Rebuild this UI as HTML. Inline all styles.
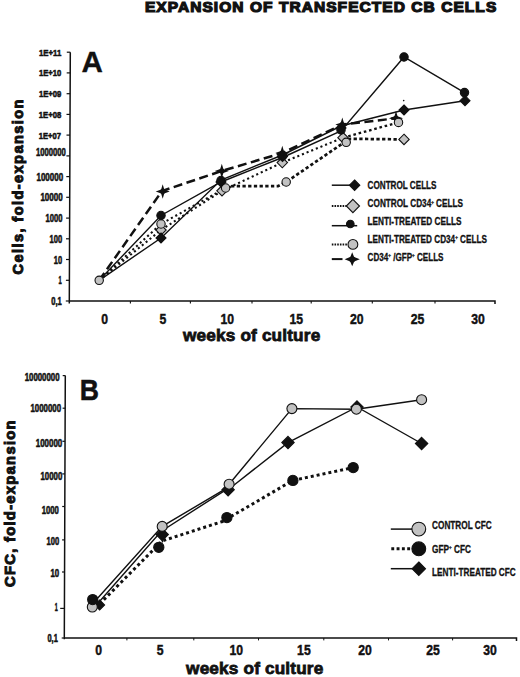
<!DOCTYPE html><html><head><meta charset="utf-8"><style>html,body{margin:0;padding:0;background:#fff;}svg{display:block;}text{font-family:"Liberation Sans", sans-serif;fill:#111;}</style></head><body>
<svg width="520" height="677" viewBox="0 0 520 677">
<rect width="520" height="677" fill="#fff"/>
<text x="144.9" y="12.2" font-size="14.6" text-anchor="start" font-weight="bold" textLength="352.4" lengthAdjust="spacingAndGlyphs" letter-spacing="1" stroke="#111" stroke-width="1.2">EXPANSION OF TRANSFECTED CB CELLS</text>
<path d="M70.3,52.2 L69.3,303.6 M69.3,301.0 H495.0 v3" fill="none" stroke="#111" stroke-width="1.5"/>
<line x1="65.8" y1="301.0" x2="69.3" y2="301.0" stroke="#111" stroke-width="1.2"/>
<text x="61.699999999999996" y="304.9" font-size="10.4" text-anchor="end" font-weight="bold" textLength="10.5" stroke="#111" stroke-width="0.55" lengthAdjust="spacingAndGlyphs">0,1</text>
<line x1="65.9" y1="280.3" x2="69.4" y2="280.3" stroke="#111" stroke-width="1.2"/>
<text x="61.699999999999996" y="284.2" font-size="10.4" text-anchor="end" font-weight="bold" textLength="3.1999999999999997" stroke="#111" stroke-width="0.55" lengthAdjust="spacingAndGlyphs">1</text>
<line x1="66.0" y1="259.5" x2="69.5" y2="259.5" stroke="#111" stroke-width="1.2"/>
<text x="62.099999999999994" y="263.5" font-size="10.4" text-anchor="end" font-weight="bold" textLength="8.3" stroke="#111" stroke-width="0.55" lengthAdjust="spacingAndGlyphs">10</text>
<line x1="66.0" y1="238.8" x2="69.5" y2="238.8" stroke="#111" stroke-width="1.2"/>
<text x="62.099999999999994" y="242.8" font-size="10.4" text-anchor="end" font-weight="bold" textLength="12.600000000000001" stroke="#111" stroke-width="0.55" lengthAdjust="spacingAndGlyphs">100</text>
<line x1="66.1" y1="218.1" x2="69.6" y2="218.1" stroke="#111" stroke-width="1.2"/>
<text x="62.4" y="222.0" font-size="10.4" text-anchor="end" font-weight="bold" textLength="16.900000000000002" stroke="#111" stroke-width="0.55" lengthAdjust="spacingAndGlyphs">1000</text>
<line x1="66.2" y1="197.3" x2="69.7" y2="197.3" stroke="#111" stroke-width="1.2"/>
<text x="62.699999999999996" y="201.3" font-size="10.4" text-anchor="end" font-weight="bold" textLength="22.3" stroke="#111" stroke-width="0.55" lengthAdjust="spacingAndGlyphs">10000</text>
<line x1="66.3" y1="176.6" x2="69.8" y2="176.6" stroke="#111" stroke-width="1.2"/>
<text x="63.099999999999994" y="180.6" font-size="10.4" text-anchor="end" font-weight="bold" textLength="26.6" stroke="#111" stroke-width="0.55" lengthAdjust="spacingAndGlyphs">100000</text>
<line x1="66.4" y1="155.9" x2="69.9" y2="155.9" stroke="#111" stroke-width="1.2"/>
<text x="65.8" y="156.2" font-size="10.4" text-anchor="end" font-weight="bold" textLength="29.8" stroke="#111" stroke-width="0.55" lengthAdjust="spacingAndGlyphs">1000000</text>
<line x1="66.5" y1="135.1" x2="70.0" y2="135.1" stroke="#111" stroke-width="1.2"/>
<text x="60.9" y="138.6" font-size="9.2" text-anchor="end" font-weight="bold" textLength="22.1" stroke="#111" stroke-width="0.55" lengthAdjust="spacingAndGlyphs">1E+07</text>
<line x1="66.5" y1="114.4" x2="70.0" y2="114.4" stroke="#111" stroke-width="1.2"/>
<text x="61.199999999999996" y="117.9" font-size="9.2" text-anchor="end" font-weight="bold" textLength="22.400000000000002" stroke="#111" stroke-width="0.55" lengthAdjust="spacingAndGlyphs">1E+08</text>
<line x1="66.6" y1="93.7" x2="70.1" y2="93.7" stroke="#111" stroke-width="1.2"/>
<text x="61.3" y="97.2" font-size="9.2" text-anchor="end" font-weight="bold" textLength="22.400000000000002" stroke="#111" stroke-width="0.55" lengthAdjust="spacingAndGlyphs">1E+09</text>
<line x1="66.7" y1="72.9" x2="70.2" y2="72.9" stroke="#111" stroke-width="1.2"/>
<text x="61.3" y="76.4" font-size="9.2" text-anchor="end" font-weight="bold" textLength="22.3" stroke="#111" stroke-width="0.55" lengthAdjust="spacingAndGlyphs">1E+10</text>
<line x1="66.8" y1="52.2" x2="70.3" y2="52.2" stroke="#111" stroke-width="1.2"/>
<text x="61.3" y="55.7" font-size="9.2" text-anchor="end" font-weight="bold" textLength="22.3" stroke="#111" stroke-width="0.55" lengthAdjust="spacingAndGlyphs">1E+11</text>
<line x1="130.4" y1="301.0" x2="130.4" y2="303.6" stroke="#111" stroke-width="1.1"/>
<line x1="190.4" y1="301.0" x2="190.4" y2="303.6" stroke="#111" stroke-width="1.1"/>
<line x1="252" y1="301.0" x2="252" y2="303.6" stroke="#111" stroke-width="1.1"/>
<line x1="311.2" y1="301.0" x2="311.2" y2="303.6" stroke="#111" stroke-width="1.1"/>
<line x1="372.3" y1="301.0" x2="372.3" y2="303.6" stroke="#111" stroke-width="1.1"/>
<line x1="435" y1="301.0" x2="435" y2="303.6" stroke="#111" stroke-width="1.1"/>
<g transform="translate(104.6,324.0) scale(0.86,1)"><text x="0" y="0" font-size="14.2" text-anchor="middle" font-weight="bold" stroke="#111" stroke-width="0.45">0</text></g>
<g transform="translate(163,324.0) scale(0.86,1)"><text x="0" y="0" font-size="14.2" text-anchor="middle" font-weight="bold" stroke="#111" stroke-width="0.45">5</text></g>
<g transform="translate(227.3,324.0) scale(0.86,1)"><text x="0" y="0" font-size="14.2" text-anchor="middle" font-weight="bold" stroke="#111" stroke-width="0.45">10</text></g>
<g transform="translate(296.2,324.0) scale(0.86,1)"><text x="0" y="0" font-size="14.2" text-anchor="middle" font-weight="bold" stroke="#111" stroke-width="0.45">15</text></g>
<g transform="translate(356.8,324.0) scale(0.86,1)"><text x="0" y="0" font-size="14.2" text-anchor="middle" font-weight="bold" stroke="#111" stroke-width="0.45">20</text></g>
<g transform="translate(417.5,324.0) scale(0.86,1)"><text x="0" y="0" font-size="14.2" text-anchor="middle" font-weight="bold" stroke="#111" stroke-width="0.45">25</text></g>
<g transform="translate(478.1,324.0) scale(0.86,1)"><text x="0" y="0" font-size="14.2" text-anchor="middle" font-weight="bold" stroke="#111" stroke-width="0.45">30</text></g>
<text x="183.0" y="341.3" font-size="17.2" text-anchor="start" font-weight="bold" textLength="137.2" lengthAdjust="spacing" stroke="#111" stroke-width="0.8">weeks of culture</text>
<text x="0" y="0" font-size="14.6" text-anchor="start" font-weight="bold" transform="translate(23.4,274.5) rotate(-90)" textLength="175" lengthAdjust="spacing" stroke="#111" stroke-width="1.0">Cells, fold-expansion</text>
<text x="81.5" y="71.8" font-size="29.5" text-anchor="start" font-weight="bold" stroke="#111" stroke-width="0.3" textLength="21.4" lengthAdjust="spacingAndGlyphs">A</text>
<polyline points="99.2,280.3 161.0,230.0 222.0,190.8 282.3,162.6 343.0,137.7" fill="none" stroke="#111" stroke-width="2.1" stroke-dasharray="2.1 2.9"/>
<polyline points="343.0,137.7 398.5,122.4" fill="none" stroke="#111" stroke-width="2.3" stroke-dasharray="2.6 2.8"/>
<polyline points="99.2,280.3 161.0,224.0 225.6,188.0" fill="none" stroke="#111" stroke-width="2.1" stroke-dasharray="2.1 2.9"/>
<polyline points="225.6,188.0 232.0,186.2 278.0,186.2 286.2,182.0 346.2,141.0 350.0,138.8 404.0,139.4" fill="none" stroke="#111" stroke-width="2.7" stroke-dasharray="3.3 2.4"/>
<polyline points="99.2,280.3 162.0,191.0 221.8,171.0 282.3,153.0 342.3,124.6 396.0,118.3" fill="none" stroke="#111" stroke-width="2.5" stroke-dasharray="9 4.5"/>
<polyline points="99.2,280.3 161.0,238.0 221.0,180.0 282.5,155.0 341.0,126.0 404.0,110.0 465.0,100.7" fill="none" stroke="#111" stroke-width="1.4"/>
<polyline points="99.2,280.3 161.0,215.5 221.0,182.0 282.5,157.5 341.0,131.0 404.0,57.0 464.5,92.6" fill="none" stroke="#111" stroke-width="1.4"/>
<path d="M389.0,118.3 L393.8,116.6 L394.5,116.1 L396.0,111.1 L397.5,116.1 L398.2,116.6 L403.0,118.3 L398.2,120.0 L397.5,120.5 L396.0,125.5 L394.5,120.5 L393.8,120.0 Z" fill="#111"/><circle cx="396" cy="118.3" r="2.40" fill="#111"/>
<polygon points="161,224.8 166.2,230 161,235.2 155.8,230" fill="#c2c2c2" stroke="#111" stroke-width="1.1"/>
<polygon points="222,185.60000000000002 227.2,190.8 222,196.0 216.8,190.8" fill="#c2c2c2" stroke="#111" stroke-width="1.1"/>
<polygon points="282.3,157.4 287.5,162.6 282.3,167.79999999999998 277.1,162.6" fill="#c2c2c2" stroke="#111" stroke-width="1.1"/>
<polygon points="343,132.5 348.2,137.7 343,142.89999999999998 337.8,137.7" fill="#c2c2c2" stroke="#111" stroke-width="1.1"/>
<polygon points="404,134.20000000000002 409.2,139.4 404,144.6 398.8,139.4" fill="#c2c2c2" stroke="#111" stroke-width="1.1"/>
<circle cx="161" cy="224" r="4.2" fill="#c2c2c2" stroke="#111" stroke-width="1.1"/>
<circle cx="225.6" cy="188" r="4.2" fill="#c2c2c2" stroke="#111" stroke-width="1.1"/>
<circle cx="286.2" cy="182" r="4.2" fill="#c2c2c2" stroke="#111" stroke-width="1.1"/>
<circle cx="346.2" cy="142.3" r="4.2" fill="#c2c2c2" stroke="#111" stroke-width="1.1"/>
<circle cx="398.5" cy="122.4" r="4.2" fill="#c2c2c2" stroke="#111" stroke-width="1.1"/>
<polygon points="161,233 166,238 161,243 156,238" fill="#111" stroke="#111" stroke-width="1.1"/>
<polygon points="221,177 226,182 221,187 216,182" fill="#111" stroke="#111" stroke-width="1.1"/>
<polygon points="282.5,151.5 287.5,156.5 282.5,161.5 277.5,156.5" fill="#111" stroke="#111" stroke-width="1.1"/>
<polygon points="341,123 346,128 341,133 336,128" fill="#111" stroke="#111" stroke-width="1.1"/>
<polygon points="404,105 409,110 404,115 399,110" fill="#111" stroke="#111" stroke-width="1.1"/>
<polygon points="465,95.7 470,100.7 465,105.7 460,100.7" fill="#111" stroke="#111" stroke-width="1.1"/>
<circle cx="161" cy="215.5" r="4.2" fill="#111" stroke="#111" stroke-width="1.1"/>
<circle cx="221" cy="180.5" r="4.2" fill="#111" stroke="#111" stroke-width="1.1"/>
<circle cx="282.5" cy="156" r="4.2" fill="#111" stroke="#111" stroke-width="1.1"/>
<circle cx="341" cy="130" r="4.2" fill="#111" stroke="#111" stroke-width="1.1"/>
<circle cx="404" cy="57" r="4.2" fill="#111" stroke="#111" stroke-width="1.1"/>
<circle cx="464.5" cy="92.6" r="4.2" fill="#111" stroke="#111" stroke-width="1.1"/>
<path d="M155.7,191.5 L160.5,189.8 L161.2,189.3 L162.7,184.3 L164.2,189.3 L164.9,189.8 L169.7,191.5 L164.9,193.2 L164.2,193.7 L162.7,198.7 L161.2,193.7 L160.5,193.2 Z" fill="#111"/><circle cx="162.7" cy="191.5" r="2.40" fill="#111"/>
<path d="M214.8,171.0 L219.6,169.3 L220.3,168.8 L221.8,163.8 L223.3,168.8 L224.0,169.3 L228.8,171.0 L224.0,172.7 L223.3,173.2 L221.8,178.2 L220.3,173.2 L219.6,172.7 Z" fill="#111"/><circle cx="221.8" cy="171" r="2.40" fill="#111"/>
<path d="M275.3,153.0 L280.1,151.3 L280.8,150.8 L282.3,145.8 L283.8,150.8 L284.5,151.3 L289.3,153.0 L284.5,154.7 L283.8,155.2 L282.3,160.2 L280.8,155.2 L280.1,154.7 Z" fill="#111"/><circle cx="282.3" cy="153" r="2.40" fill="#111"/>
<path d="M335.3,124.6 L340.1,122.9 L340.8,122.4 L342.3,117.4 L343.8,122.4 L344.5,122.9 L349.3,124.6 L344.5,126.3 L343.8,126.8 L342.3,131.8 L340.8,126.8 L340.1,126.3 Z" fill="#111"/><circle cx="342.3" cy="124.6" r="2.40" fill="#111"/>
<circle cx="99.2" cy="280.3" r="4.2" fill="#c2c2c2" stroke="#111" stroke-width="1.1"/>
<circle cx="403.7" cy="100.6" r="0.8" fill="#111" stroke="#111" stroke-width="0"/>
<line x1="331.8" y1="185.2" x2="354.6" y2="185.2" stroke="#111" stroke-width="1.5"/>
<polygon points="354.6,180.0 359.8,185.2 354.6,190.39999999999998 349.40000000000003,185.2" fill="#111" stroke="#111" stroke-width="1.1"/>
<line x1="331.8" y1="206" x2="352.9" y2="206" stroke="#111" stroke-width="2" stroke-dasharray="1.6 1.1"/>
<polygon points="352.9,199.4 359.5,206 352.9,212.6 346.29999999999995,206" fill="#c2c2c2" stroke="#111" stroke-width="1.1"/>
<line x1="331.8" y1="225.7" x2="357.2" y2="225.7" stroke="#111" stroke-width="1.5"/>
<circle cx="350.3" cy="224" r="3.8" fill="#111" stroke="#111" stroke-width="1.1"/>
<line x1="331.8" y1="244.4" x2="352.9" y2="244.4" stroke="#111" stroke-width="2" stroke-dasharray="1.6 1.1"/>
<circle cx="352.9" cy="244.4" r="4.9" fill="#c2c2c2" stroke="#111" stroke-width="1.1"/>
<line x1="331.8" y1="259.1" x2="342.5" y2="259.1" stroke="#111" stroke-width="2"/>
<path d="M344.6,259.3 L349.6,257.3 L350.4,256.7 L352.2,252.3 L354.0,256.7 L354.8,257.3 L359.8,259.3 L354.8,261.3 L354.0,261.9 L352.2,266.3 L350.4,261.9 L349.6,261.3 Z" fill="#111"/><circle cx="352.2" cy="259.3" r="2.88" fill="#111"/>
<text x="367.6" y="188.8" font-size="10.2" text-anchor="start" font-weight="bold" textLength="68.9" stroke="#111" stroke-width="0.3" lengthAdjust="spacingAndGlyphs">CONTROL CELLS</text>
<text x="367.6" y="207.3" font-size="10.2" text-anchor="start" font-weight="bold" textLength="95.4" stroke="#111" stroke-width="0.3" lengthAdjust="spacingAndGlyphs">CONTROL CD34<tspan font-size="5.6" dy="-3.4">+</tspan><tspan dy="3.4"> CELLS</tspan></text>
<text x="367.6" y="225.1" font-size="10.2" text-anchor="start" font-weight="bold" textLength="93.9" stroke="#111" stroke-width="0.3" lengthAdjust="spacingAndGlyphs">LENTI-TREATED CELLS</text>
<text x="367.6" y="242.8" font-size="10.2" text-anchor="start" font-weight="bold" textLength="119.3" stroke="#111" stroke-width="0.3" lengthAdjust="spacingAndGlyphs">LENTI-TREATED CD34<tspan font-size="5.6" dy="-3.4">+</tspan><tspan dy="3.4"> CELLS</tspan></text>
<text x="367.6" y="260.6" font-size="10.2" text-anchor="start" font-weight="bold" textLength="75.9" stroke="#111" stroke-width="0.3" lengthAdjust="spacingAndGlyphs">CD34<tspan font-size="5.6" dy="-3.4">+</tspan><tspan dy="3.4"> /GFP</tspan><tspan font-size="5.6" dy="-3.4">+</tspan><tspan dy="3.4"> CELLS</tspan></text>
<path d="M65.3,375.6 L64.3,639.2 M64.3,638.0 H516.5 v3" fill="none" stroke="#111" stroke-width="1.5"/>
<line x1="61.7" y1="638.0" x2="64.3" y2="638.0" stroke="#111" stroke-width="1.2"/>
<text x="57.8" y="642.4" font-size="10.4" text-anchor="end" font-weight="bold" textLength="10.3" stroke="#111" stroke-width="0.55" lengthAdjust="spacingAndGlyphs">0,1</text>
<line x1="60.2" y1="608.4" x2="64.4" y2="608.4" stroke="#111" stroke-width="1.2"/>
<text x="57.8" y="610.9" font-size="10.4" text-anchor="end" font-weight="bold" textLength="3.0" stroke="#111" stroke-width="0.55" lengthAdjust="spacingAndGlyphs">1</text>
<line x1="62.0" y1="572.0" x2="64.6" y2="572.0" stroke="#111" stroke-width="1.2"/>
<text x="59.199999999999996" y="577.4" font-size="10.4" text-anchor="end" font-weight="bold" textLength="8.700000000000001" stroke="#111" stroke-width="0.55" lengthAdjust="spacingAndGlyphs">10</text>
<line x1="62.1" y1="539.9" x2="64.7" y2="539.9" stroke="#111" stroke-width="1.2"/>
<text x="59.199999999999996" y="545.2" font-size="10.4" text-anchor="end" font-weight="bold" textLength="12.600000000000001" stroke="#111" stroke-width="0.55" lengthAdjust="spacingAndGlyphs">100</text>
<line x1="62.2" y1="506.5" x2="64.8" y2="506.5" stroke="#111" stroke-width="1.2"/>
<text x="58.9" y="513.5" font-size="10.4" text-anchor="end" font-weight="bold" textLength="17.1" stroke="#111" stroke-width="0.55" lengthAdjust="spacingAndGlyphs">1000</text>
<line x1="62.3" y1="473.9" x2="64.9" y2="473.9" stroke="#111" stroke-width="1.2"/>
<text x="62.3" y="480.1" font-size="10.4" text-anchor="end" font-weight="bold" textLength="21.8" stroke="#111" stroke-width="0.55" lengthAdjust="spacingAndGlyphs">10000</text>
<line x1="62.4" y1="441.3" x2="65.0" y2="441.3" stroke="#111" stroke-width="1.2"/>
<text x="62.199999999999996" y="446.9" font-size="10.4" text-anchor="end" font-weight="bold" textLength="26.400000000000002" stroke="#111" stroke-width="0.55" lengthAdjust="spacingAndGlyphs">100000</text>
<line x1="62.6" y1="408.2" x2="65.2" y2="408.2" stroke="#111" stroke-width="1.2"/>
<text x="61.0" y="411.6" font-size="10.4" text-anchor="end" font-weight="bold" textLength="30.5" stroke="#111" stroke-width="0.55" lengthAdjust="spacingAndGlyphs">1000000</text>
<line x1="62.7" y1="375.6" x2="65.3" y2="375.6" stroke="#111" stroke-width="1.2"/>
<text x="59.5" y="380.6" font-size="10.4" text-anchor="end" font-weight="bold" textLength="34.8" stroke="#111" stroke-width="0.55" lengthAdjust="spacingAndGlyphs">10000000</text>
<line x1="126.9" y1="638.0" x2="126.9" y2="640.4" stroke="#111" stroke-width="1.0"/>
<line x1="193.8" y1="638.0" x2="193.8" y2="640.4" stroke="#111" stroke-width="1.0"/>
<line x1="258.5" y1="638.0" x2="258.5" y2="640.4" stroke="#111" stroke-width="1.0"/>
<line x1="323.8" y1="638.0" x2="323.8" y2="640.4" stroke="#111" stroke-width="1.0"/>
<line x1="388.5" y1="638.0" x2="388.5" y2="640.4" stroke="#111" stroke-width="1.0"/>
<line x1="452.6" y1="638.0" x2="452.6" y2="640.4" stroke="#111" stroke-width="1.0"/>
<g transform="translate(98.7,655.0) scale(0.86,1)"><text x="0" y="0" font-size="14.2" text-anchor="middle" font-weight="bold" stroke="#111" stroke-width="0.45">0</text></g>
<g transform="translate(160.2,655.0) scale(0.86,1)"><text x="0" y="0" font-size="14.2" text-anchor="middle" font-weight="bold" stroke="#111" stroke-width="0.45">5</text></g>
<g transform="translate(236.2,655.0) scale(0.86,1)"><text x="0" y="0" font-size="14.2" text-anchor="middle" font-weight="bold" stroke="#111" stroke-width="0.45">10</text></g>
<g transform="translate(303.9,655.0) scale(0.86,1)"><text x="0" y="0" font-size="14.2" text-anchor="middle" font-weight="bold" stroke="#111" stroke-width="0.45">15</text></g>
<g transform="translate(365,655.0) scale(0.86,1)"><text x="0" y="0" font-size="14.2" text-anchor="middle" font-weight="bold" stroke="#111" stroke-width="0.45">20</text></g>
<g transform="translate(433.1,655.0) scale(0.86,1)"><text x="0" y="0" font-size="14.2" text-anchor="middle" font-weight="bold" stroke="#111" stroke-width="0.45">25</text></g>
<g transform="translate(490,655.0) scale(0.86,1)"><text x="0" y="0" font-size="14.2" text-anchor="middle" font-weight="bold" stroke="#111" stroke-width="0.45">30</text></g>
<text x="186.1" y="674.4" font-size="17.2" text-anchor="start" font-weight="bold" textLength="137.2" lengthAdjust="spacing" stroke="#111" stroke-width="0.8">weeks of culture</text>
<text x="0" y="0" font-size="14.8" text-anchor="start" font-weight="bold" transform="translate(14.6,586.9) rotate(-90)" textLength="166.5" lengthAdjust="spacing" stroke="#111" stroke-width="1.0">CFC, fold-expansion</text>
<text x="79.7" y="400.2" font-size="29.3" text-anchor="start" font-weight="bold" stroke="#111" stroke-width="0.5" textLength="19.2" lengthAdjust="spacingAndGlyphs">B</text>
<polyline points="99.5,601.5 161.0,531.5 223.5,491.3 228.1,489.7 288.0,442.6 357.0,407.0 421.6,443.5" fill="none" stroke="#111" stroke-width="1.4"/>
<polyline points="96.0,600.0 162.2,526.4 222.5,490.6 229.1,484.2 291.9,408.6 356.4,409.2 421.6,399.7" fill="none" stroke="#111" stroke-width="1.4"/>
<polyline points="99.6,604.0 162.0,541.0 222.5,521.5 292.9,480.4 353.2,467.6" fill="none" stroke="#111" stroke-width="3" stroke-dasharray="3 3"/>
<polygon points="99.6,600.0 104.6,605.0 99.6,610.0 94.6,605.0" fill="#111" stroke="#111" stroke-width="1.1"/>
<polygon points="162.2,528.3 168.39999999999998,534.5 162.2,540.7 156.0,534.5" fill="#111" stroke="#111" stroke-width="1.1"/>
<polygon points="228.1,483.5 234.29999999999998,489.7 228.1,495.9 221.9,489.7" fill="#111" stroke="#111" stroke-width="1.1"/>
<polygon points="288,436.40000000000003 294.2,442.6 288,448.8 281.8,442.6" fill="#111" stroke="#111" stroke-width="1.1"/>
<polygon points="357,400.8 363.2,407 357,413.2 350.8,407" fill="#111" stroke="#111" stroke-width="1.1"/>
<polygon points="421.6,437.3 427.8,443.5 421.6,449.7 415.40000000000003,443.5" fill="#111" stroke="#111" stroke-width="1.1"/>
<circle cx="92.3" cy="607" r="5.0" fill="#c2c2c2" stroke="#111" stroke-width="1.1"/>
<circle cx="162.2" cy="526.4" r="5.0" fill="#c2c2c2" stroke="#111" stroke-width="1.1"/>
<circle cx="229.1" cy="484.2" r="5.0" fill="#c2c2c2" stroke="#111" stroke-width="1.1"/>
<circle cx="291.9" cy="408.6" r="5.0" fill="#c2c2c2" stroke="#111" stroke-width="1.1"/>
<circle cx="356.4" cy="409.2" r="5.0" fill="#c2c2c2" stroke="#111" stroke-width="1.1"/>
<circle cx="421.6" cy="399.7" r="5.0" fill="#c2c2c2" stroke="#111" stroke-width="1.1"/>
<circle cx="92.7" cy="599.6" r="5.1" fill="#111" stroke="#111" stroke-width="1.1"/>
<circle cx="158.8" cy="547.3" r="5.1" fill="#111" stroke="#111" stroke-width="1.1"/>
<circle cx="226.9" cy="517.6" r="5.1" fill="#111" stroke="#111" stroke-width="1.1"/>
<circle cx="292.9" cy="480.4" r="5.1" fill="#111" stroke="#111" stroke-width="1.1"/>
<circle cx="353.2" cy="467.6" r="5.1" fill="#111" stroke="#111" stroke-width="1.1"/>
<line x1="162.4" y1="538.5" x2="162.4" y2="542.5" stroke="#111" stroke-width="1.2"/>
<line x1="390.8" y1="529.1" x2="418.8" y2="529.1" stroke="#111" stroke-width="1.5"/>
<circle cx="418.8" cy="529.1" r="6.9" fill="#c2c2c2" stroke="#111" stroke-width="1.1"/>
<line x1="391.3" y1="548.8" x2="418.8" y2="548.8" stroke="#111" stroke-width="3" stroke-dasharray="2.9 2.4"/>
<circle cx="418.8" cy="548.8" r="6.9" fill="#111" stroke="#111" stroke-width="1.1"/>
<line x1="390.8" y1="568.7" x2="418.8" y2="568.7" stroke="#111" stroke-width="1.5"/>
<polygon points="418.8,562.0 425.5,568.7 418.8,575.4000000000001 412.1,568.7" fill="#111" stroke="#111" stroke-width="1.1"/>
<text x="432.1" y="528.8" font-size="10.2" text-anchor="start" font-weight="bold" textLength="59.6" stroke="#111" stroke-width="0.3" lengthAdjust="spacingAndGlyphs">CONTROL CFC</text>
<text x="432.1" y="552.8" font-size="10.2" text-anchor="start" font-weight="bold" textLength="38.8" stroke="#111" stroke-width="0.3" lengthAdjust="spacingAndGlyphs">GFP<tspan font-size="5.6" dy="-3.4">+</tspan><tspan dy="3.4"> CFC</tspan></text>
<text x="432.1" y="576.2" font-size="10.2" text-anchor="start" font-weight="bold" textLength="83.6" stroke="#111" stroke-width="0.3" lengthAdjust="spacingAndGlyphs">LENTI-TREATED CFC</text>
</svg></body></html>
